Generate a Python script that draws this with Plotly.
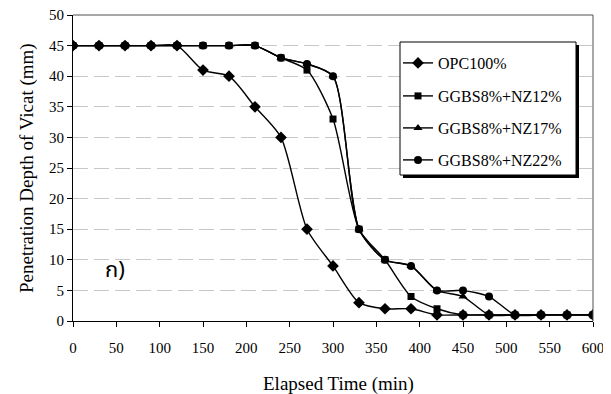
import plotly.graph_objects as go

time_min = [0, 30, 60, 90, 120, 150, 180, 210, 240, 270, 300, 330, 360, 390, 420, 450, 480, 510, 540, 570, 600]
opc100 = [45, 45, 45, 45, 45, 41, 40, 35, 30, 15, 9, 3, 2, 2, 1, 1, 1, 1, 1, 1, 1]
nz12 = [45, 45, 45, 45, 45, 45, 45, 45, 43, 41, 33, 15, 10, 4, 2, 1, 1, 1, 1, 1, 1]
nz17 = [45, 45, 45, 45, 45, 45, 45, 45, 43, 42, 40, 15, 10, 9, 5, 4, 1, 1, 1, 1, 1]
nz22 = [45, 45, 45, 45, 45, 45, 45, 45, 43, 42, 40, 15, 10, 9, 5, 5, 4, 1, 1, 1, 1]

series = [
    ("OPC100%", opc100, "diamond", 9),
    ("GGBS8%+NZ12%", nz12, "square", 7),
    ("GGBS8%+NZ17%", nz17, "triangle-up", 8),
    ("GGBS8%+NZ22%", nz22, "circle", 8),
]

font_serif = "Liberation Serif, Times New Roman, serif"

# the page places the figure 8px in from the top-left corner (body margin)
OFF = 8
FIG_W, FIG_H = 611 - OFF, 394 - OFF
# plot area in screenshot pixels: x 73..593, y 15..321
PX0, PX1, PY0, PY1 = 73, 593, 15, 321
W, H = PX1 - PX0, PY1 - PY0

def px(x):
    return (x - PX0) / W

def py(y):
    return (PY1 - y) / H

legend_names = ["legend", "legend2", "legend3", "legend4"]
legend_rows = [63, 96, 128, 160]

fig = go.Figure()
for (name, vals, sym, sz), lg in zip(series, legend_names):
    fig.add_trace(go.Scatter(
        x=time_min, y=vals, name=name, mode="lines+markers",
        line=dict(color="black", width=1.4, shape="spline", smoothing=0.7),
        marker=dict(symbol=sym, size=sz, color="black", line=dict(width=0)),
        legend=lg,
    ))

# legend box with shadow
fig.add_shape(type="rect", xref="paper", yref="paper",
              x0=px(403), x1=px(579), y0=py(178), y1=py(45),
              fillcolor="black", line=dict(width=0), layer="above")
fig.add_shape(type="rect", xref="paper", yref="paper",
              x0=px(400), x1=px(576), y0=py(175), y1=py(42),
              fillcolor="white", line=dict(color="black", width=1), layer="above")

# panel label
fig.add_annotation(x=49, y=8.3, xref="x", yref="y", text="ก)", showarrow=False,
                   font=dict(family="Noto Sans Thai, Noto Sans, DejaVu Sans, sans-serif",
                             size=22, color="black"))

# axis titles
fig.add_annotation(x=px(338), y=py(384), xref="paper", yref="paper",
                   text="Elapsed Time (min)", showarrow=False,
                   xanchor="center", yanchor="middle",
                   font=dict(family=font_serif, size=19, color="black"))
fig.add_annotation(x=px(27), y=py(168), xref="paper", yref="paper",
                   text="Penetration Depth of Vicat (mm)", showarrow=False,
                   textangle=-90, xanchor="center", yanchor="middle",
                   font=dict(family=font_serif, size=19, color="black"))

legend_common = dict(xanchor="left", yanchor="middle", bgcolor="rgba(0,0,0,0)",
                     borderwidth=0, font=dict(family=font_serif, size=16),
                     itemwidth=30)
legend_layout = {}
for lg, row in zip(legend_names, legend_rows):
    legend_layout[lg] = dict(x=px(398), y=py(row), **legend_common)

fig.update_layout(
    width=FIG_W, height=FIG_H,
    margin=dict(l=PX0 - OFF, r=FIG_W - (PX1 - OFF), t=PY0 - OFF, b=FIG_H - (PY1 - OFF)),
    paper_bgcolor="white", plot_bgcolor="white",
    font=dict(family=font_serif, size=15, color="black"),
    showlegend=True,
    xaxis=dict(range=[0, 600], tickmode="linear", tick0=0, dtick=50,
               showgrid=False, zeroline=False, showline=True, linecolor="black", linewidth=1,
               ticks="outside", ticklen=5, tickcolor="black", automargin=False,
               ticklabelstandoff=8, ticklabeloverflow="allow",
               tickfont=dict(family=font_serif, size=15)),
    yaxis=dict(range=[0, 50], tickmode="linear", tick0=0, dtick=5,
               showgrid=True, gridcolor="#c8c8c8", griddash="15px,6px", gridwidth=1,
               zeroline=False, showline=True, linecolor="black", linewidth=1,
               ticks="outside", ticklen=5, tickcolor="black", automargin=False,
               ticklabeloverflow="allow",
               tickfont=dict(family=font_serif, size=15)),
    **legend_layout,
)

# top and right border of plot area
fig.add_shape(type="line", xref="paper", yref="paper", x0=0, x1=1, y0=1, y1=1,
              line=dict(color="#505050", width=1))
fig.add_shape(type="line", xref="paper", yref="paper", x0=1, x1=1, y0=0, y1=1,
              line=dict(color="#505050", width=1))

fig.write_html("out.html")
